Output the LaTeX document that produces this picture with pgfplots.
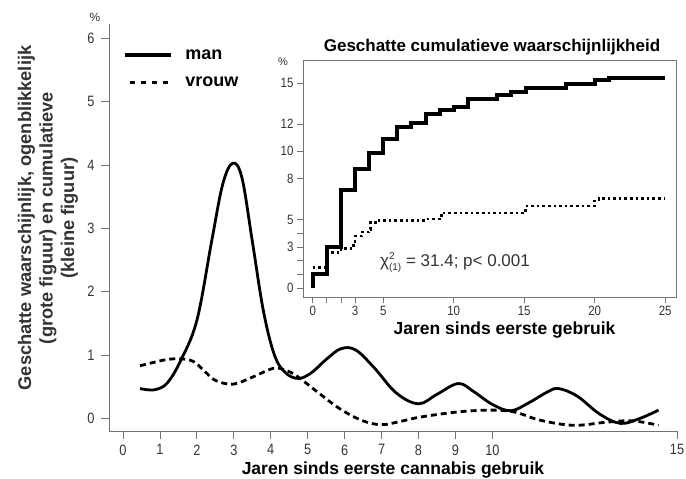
\documentclass[border=0pt]{standalone}
\usepackage{pgfplots}
\pgfplotsset{compat=1.18}
\usepackage{fontspec}
\setmainfont{Liberation Sans}
\newfontfamily\tickfont[FakeStretch=0.85]{Liberation Sans}
\definecolor{axgray}{gray}{0.45}
\definecolor{txt}{gray}{0.2}
\begin{document}
\begin{tikzpicture}
\useasboundingbox (0pt,0pt) rectangle (686pt,-479pt);
% ---------------- main axis ----------------
\begin{axis}[
  at={(109pt,-431pt)}, anchor=south west,
  scale only axis, width=568pt, height=407pt,
  xmin=-0.38, xmax=15, ymin=-0.2, ymax=6.23,
  axis x line*=bottom, axis y line*=left,
  axis line style={draw=axgray, line width=1pt, -},
  tick align=outside, major tick length=8pt,
  tick style={draw=axgray, line width=0.8pt},
  xtick={0,1,2,3,4,5,6,7,8,9,10,15},
  ytick={0,1,2,3,4,5,6},
  /pgf/number format/assume math mode=true,
  ticklabel style={font=\tickfont\fontsize{15}{15}\selectfont, text=txt},
  xticklabel style={yshift=-2pt},
  yticklabel style={xshift=-3pt},
  xlabel={Jaren sinds eerste cannabis gebruik},
  xlabel style={at={(axis description cs:0.5,0)}, anchor=center, yshift=-39pt, font=\bfseries\fontsize{17.5}{17.5}\selectfont},
  legend style={at={(axis description cs:0.0246,0.943)}, anchor=north west, draw=none, fill=none, inner sep=0pt,
    font=\bfseries\fontsize{18}{18}\selectfont, row sep=12pt, cells={anchor=west}},
  clip=false,
]
\addplot[black, line width=2.8pt, smooth, tension=0.6,
  legend image code/.code={\draw[black, line width=3.2pt] (0pt,0pt) -- (46pt,0pt);}] coordinates {
(0.46,0.47)(0.7,0.45)(0.92,0.46)(1.2,0.56)(1.55,0.9)(2.0,1.55)(2.4,2.8)(2.7,3.7)(2.97,4.03)(3.22,3.8)(3.5,2.8)(3.8,1.7)(4.1,1.0)(4.4,0.72)(4.75,0.63)(5.1,0.72)(5.5,0.93)(5.9,1.1)(6.3,1.08)(6.8,0.8)(7.4,0.4)(8.0,0.23)(8.5,0.38)(9.08,0.55)(9.5,0.42)(10.0,0.22)(10.5,0.12)(11.0,0.25)(11.5,0.42)(11.8,0.47)(12.3,0.35)(12.9,0.07)(13.47,-0.08)(14.0,0.0)(14.5,0.13)};
\addlegendentry{\hspace{11pt}man}
\addplot[black, line width=2.8pt, dash pattern=on 6pt off 4pt, smooth, tension=0.6,
  legend image code/.code={\draw[black, line width=2.8pt, dash pattern=on 5pt off 6pt] (5pt,0pt) -- (46pt,0pt);}] coordinates {
(0.46,0.83)(0.8,0.88)(1.2,0.93)(1.55,0.94)(1.9,0.9)(2.2,0.75)(2.5,0.6)(2.98,0.54)(3.5,0.65)(4.07,0.79)(4.4,0.76)(4.7,0.67)(5.3,0.4)(5.9,0.14)(6.5,-0.04)(7.0,-0.1)(7.5,-0.05)(8.05,0.02)(9.05,0.1)(9.95,0.13)(10.6,0.1)(11.3,-0.03)(12.2,-0.11)(13.1,-0.06)(13.8,-0.04)(14.5,-0.11)};
\addlegendentry{\hspace{11pt}vrouw}
\end{axis}
% ---------------- inset axis ----------------
\begin{axis}[
  at={(303pt,-297pt)}, anchor=south west,
  scale only axis, width=373pt, height=237pt,
  xmin=-0.69, xmax=25.77, ymin=-0.66, ymax=16.68,
  axis background/.style={fill=white},
  axis line style={draw=axgray, line width=0.9pt},
  xtick pos=bottom, ytick pos=left,
  tick align=outside, major tick length=6pt,
  tick style={draw=axgray, line width=0.8pt},
  xtick={0,1,2,3,5,10,15,20,25}, xticklabels={0,,,3,5,10,15,20,25},
  ytick={0,1,2,3,4,5,8,10,12,15}, yticklabels={0,,,3,,5,8,10,12,15},
  /pgf/number format/assume math mode=true,
  ticklabel style={font=\tickfont\fontsize{13.5}{13.5}\selectfont, text=txt},
  title={Geschatte cumulatieve waarschijnlijkheid},
  title style={at={(axis description cs:0.5,1)}, anchor=center, yshift=7pt, xshift=2.5pt, font=\bfseries\fontsize{17}{17}\selectfont},
  xlabel={Jaren sinds eerste gebruik},
  xlabel style={at={(axis description cs:0.5,0)}, anchor=center, yshift=-33pt, xshift=15pt, font=\bfseries\fontsize{17.5}{17.5}\selectfont},
  clip=false,
]
\addplot[black, line width=4pt, const plot, line join=miter] coordinates {
(0,0)(0,1.05)(1,3.0)(2,7.17)(3,8.7)(4,9.9)(5,10.9)(6,11.75)(7,12.1)(8.05,12.7)(9.03,13.05)(10.05,13.25)(11,13.8)(13.05,14.1)(14.1,14.35)(15.1,14.65)(18,14.9)(20,15.2)(21,15.35)(25,15.35)};
\addplot[black, line width=2.6pt, dash pattern=on 2.6pt off 3pt, const plot] coordinates {
(0,1.5)(1,2.6)(2,2.9)(2.9,3.4)(3,3.8)(3.5,4.1)(4,4.3)(4.1,4.8)(4.6,4.95)(8,5.05)(9,5.3)(9.3,5.5)(15.1,6.0)(20,6.35)(20.3,6.56)(25,6.56)};
\node[anchor=west, font=\fontsize{17}{17}\selectfont, text=txt, inner sep=0pt] at (axis cs:4.77,1.85)
  {χ\rlap{\raisebox{0.85ex}{\fontsize{10}{10}\selectfont 2}}\raisebox{-0.45ex}{\fontsize{10}{10}\selectfont (1)} = 31.4; p< 0.001};
\end{axis}
% ---------------- free labels ----------------
\node[rotate=90, align=center, font=\bfseries\fontsize{18.3}{21.5}\selectfont, text=txt] at (48pt,-218pt)
  {Geschatte waarschijnlijk, ogenblikkelijk\\(grote figuur) en cumulatieve\\(kleine figuur)};
\node[font=\fontsize{12}{12}\selectfont, text=txt] at (95pt,-17pt) {\%};
\node[font=\fontsize{11}{11}\selectfont, text=txt] at (283pt,-62pt) {\%};
\end{tikzpicture}
\end{document}
